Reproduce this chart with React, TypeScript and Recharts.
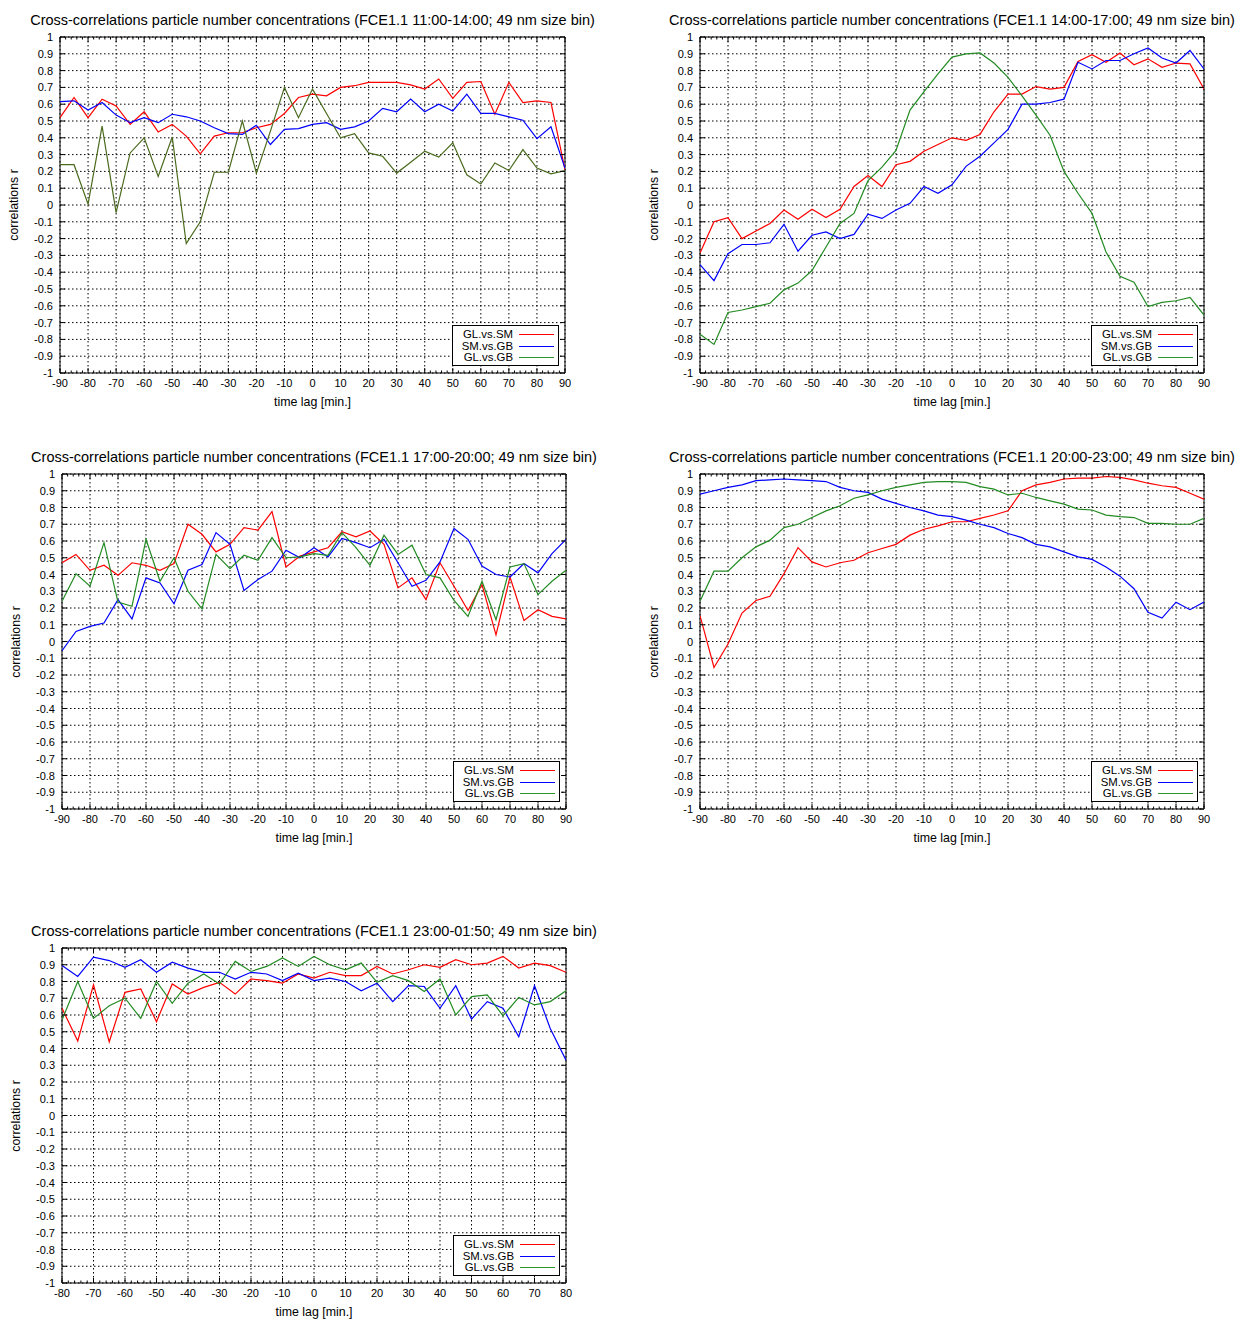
import React from 'react';
import { LineChart, Line, XAxis, YAxis, CartesianGrid, Legend, ReferenceArea } from 'recharts';

// ---------- categories / ticks ----------
const LAGS_90 = [-90, -85, -80, -75, -70, -65, -60, -55, -50, -45, -40, -35, -30, -25, -20, -15, -10, -5, 0, 5, 10, 15, 20, 25, 30, 35, 40, 45, 50, 55, 60, 65, 70, 75, 80, 85, 90];
const LAGS_80 = [-80, -75, -70, -65, -60, -55, -50, -45, -40, -35, -30, -25, -20, -15, -10, -5, 0, 5, 10, 15, 20, 25, 30, 35, 40, 45, 50, 55, 60, 65, 70, 75, 80];
const X_TICKS_90 = [-90, -80, -70, -60, -50, -40, -30, -20, -10, 0, 10, 20, 30, 40, 50, 60, 70, 80, 90];
const X_TICKS_80 = [-80, -70, -60, -50, -40, -30, -20, -10, 0, 10, 20, 30, 40, 50, 60, 70, 80];
const Y_TICKS = [1, 0.9, 0.8, 0.7, 0.6, 0.5, 0.4, 0.3, 0.2, 0.1, 0, -0.1, -0.2, -0.3, -0.4, -0.5, -0.6, -0.7, -0.8, -0.9, -1];
const SERIES_NAMES = ['GL.vs.SM', 'SM.vs.GB', 'GL.vs.GB'];

// ---------- panel 1: 11:00-14:00 ----------
const P1_GL_SM = [0.52, 0.64, 0.52, 0.63, 0.59, 0.48, 0.555, 0.435, 0.48, 0.41, 0.305, 0.41, 0.43, 0.43, 0.46, 0.48, 0.545, 0.64, 0.66, 0.65, 0.70, 0.71, 0.73, 0.73, 0.73, 0.715, 0.69, 0.75, 0.635, 0.73, 0.735, 0.54, 0.73, 0.61, 0.62, 0.61, 0.21];
const P1_SM_GB = [0.615, 0.62, 0.565, 0.61, 0.535, 0.49, 0.52, 0.49, 0.54, 0.525, 0.50, 0.46, 0.425, 0.42, 0.475, 0.36, 0.45, 0.455, 0.48, 0.49, 0.45, 0.465, 0.50, 0.575, 0.555, 0.63, 0.555, 0.60, 0.56, 0.66, 0.545, 0.545, 0.525, 0.505, 0.395, 0.465, 0.22];
const P1_GL_GB = [0.24, 0.24, 0.005, 0.47, -0.045, 0.31, 0.40, 0.17, 0.405, -0.23, -0.10, 0.195, 0.195, 0.50, 0.19, 0.44, 0.70, 0.52, 0.69, 0.545, 0.40, 0.425, 0.31, 0.29, 0.19, 0.255, 0.32, 0.285, 0.37, 0.18, 0.125, 0.25, 0.205, 0.33, 0.22, 0.185, 0.205];

// ---------- panel 2: 14:00-17:00 ----------
const P2_GL_SM = [-0.285, -0.10, -0.075, -0.20, -0.155, -0.11, -0.03, -0.085, -0.025, -0.075, -0.025, 0.11, 0.175, 0.11, 0.24, 0.26, 0.32, 0.36, 0.40, 0.385, 0.42, 0.555, 0.66, 0.66, 0.705, 0.69, 0.70, 0.855, 0.895, 0.85, 0.905, 0.835, 0.87, 0.82, 0.845, 0.84, 0.69];
const P2_SM_GB = [-0.355, -0.45, -0.29, -0.235, -0.235, -0.225, -0.115, -0.275, -0.18, -0.16, -0.20, -0.175, -0.055, -0.08, -0.03, 0.01, 0.11, 0.07, 0.12, 0.23, 0.29, 0.37, 0.45, 0.60, 0.60, 0.61, 0.63, 0.85, 0.81, 0.86, 0.86, 0.90, 0.935, 0.875, 0.845, 0.92, 0.81];
const P2_GL_GB = [-0.77, -0.83, -0.64, -0.625, -0.605, -0.585, -0.505, -0.465, -0.39, -0.25, -0.11, -0.05, 0.145, 0.225, 0.325, 0.565, 0.675, 0.78, 0.88, 0.90, 0.905, 0.845, 0.76, 0.65, 0.535, 0.415, 0.20, 0.07, -0.05, -0.28, -0.425, -0.46, -0.605, -0.58, -0.57, -0.55, -0.655];

// ---------- panel 3: 17:00-20:00 ----------
const P3_GL_SM = [0.47, 0.52, 0.425, 0.455, 0.395, 0.47, 0.455, 0.425, 0.465, 0.70, 0.64, 0.535, 0.58, 0.68, 0.665, 0.775, 0.445, 0.51, 0.535, 0.56, 0.655, 0.625, 0.66, 0.58, 0.32, 0.38, 0.25, 0.47, 0.33, 0.185, 0.34, 0.04, 0.385, 0.125, 0.19, 0.15, 0.135];
const P3_SM_GB = [-0.055, 0.06, 0.09, 0.11, 0.25, 0.135, 0.38, 0.35, 0.225, 0.425, 0.46, 0.65, 0.58, 0.305, 0.37, 0.42, 0.545, 0.50, 0.56, 0.505, 0.615, 0.59, 0.56, 0.61, 0.47, 0.33, 0.365, 0.475, 0.675, 0.61, 0.45, 0.40, 0.385, 0.465, 0.41, 0.525, 0.61];
const P3_GL_GB = [0.24, 0.405, 0.33, 0.59, 0.235, 0.21, 0.61, 0.36, 0.50, 0.30, 0.195, 0.52, 0.435, 0.515, 0.485, 0.62, 0.50, 0.505, 0.525, 0.515, 0.65, 0.56, 0.455, 0.635, 0.52, 0.575, 0.40, 0.38, 0.245, 0.15, 0.36, 0.13, 0.445, 0.465, 0.28, 0.36, 0.425];

// ---------- panel 4: 20:00-23:00 ----------
const P4_GL_SM = [0.155, -0.155, -0.015, 0.17, 0.245, 0.27, 0.405, 0.56, 0.475, 0.445, 0.47, 0.485, 0.53, 0.555, 0.58, 0.635, 0.67, 0.69, 0.715, 0.715, 0.735, 0.755, 0.78, 0.90, 0.935, 0.95, 0.97, 0.975, 0.975, 0.985, 0.98, 0.965, 0.945, 0.93, 0.92, 0.885, 0.85];
const P4_SM_GB = [0.88, 0.90, 0.92, 0.935, 0.96, 0.965, 0.97, 0.965, 0.96, 0.955, 0.92, 0.90, 0.89, 0.85, 0.825, 0.80, 0.78, 0.755, 0.745, 0.725, 0.70, 0.68, 0.645, 0.62, 0.58, 0.565, 0.535, 0.505, 0.49, 0.445, 0.39, 0.315, 0.175, 0.14, 0.235, 0.19, 0.235];
const P4_GL_GB = [0.24, 0.42, 0.42, 0.50, 0.565, 0.605, 0.68, 0.70, 0.74, 0.78, 0.81, 0.855, 0.875, 0.90, 0.92, 0.935, 0.95, 0.955, 0.955, 0.95, 0.925, 0.91, 0.875, 0.885, 0.86, 0.84, 0.82, 0.79, 0.785, 0.755, 0.745, 0.74, 0.705, 0.705, 0.70, 0.70, 0.735];

// ---------- panel 5: 23:00-01:50 ----------
const P5_GL_SM = [0.64, 0.445, 0.78, 0.44, 0.735, 0.755, 0.56, 0.785, 0.725, 0.765, 0.795, 0.725, 0.815, 0.805, 0.79, 0.845, 0.82, 0.855, 0.835, 0.835, 0.89, 0.845, 0.87, 0.90, 0.885, 0.93, 0.90, 0.91, 0.95, 0.88, 0.91, 0.895, 0.855];
const P5_SM_GB = [0.895, 0.83, 0.945, 0.925, 0.885, 0.93, 0.855, 0.915, 0.88, 0.855, 0.855, 0.815, 0.855, 0.845, 0.805, 0.85, 0.805, 0.82, 0.80, 0.745, 0.79, 0.68, 0.775, 0.77, 0.64, 0.775, 0.575, 0.68, 0.64, 0.47, 0.775, 0.52, 0.33];
const P5_GL_GB = [0.57, 0.80, 0.58, 0.655, 0.70, 0.58, 0.80, 0.67, 0.79, 0.845, 0.785, 0.92, 0.86, 0.89, 0.94, 0.89, 0.95, 0.90, 0.87, 0.91, 0.795, 0.835, 0.805, 0.74, 0.815, 0.60, 0.71, 0.72, 0.595, 0.705, 0.66, 0.68, 0.745];

const FONT = '"Liberation Sans", Arial, Helvetica, sans-serif';
const RED = '#ff0000';
const BLUE = '#0000ff';
const GREEN = '#228b22';
const KEY_ORDER = ['a', 'b', 'c'];
const LEGEND_COLORS: Record<string, string> = { a: RED, b: BLUE, c: '#2a962a' };

type PanelProps = {
  L: number; T: number; W: number; H: number;
  lags: number[]; majors: number[]; domain: [number, number];
  s1: number[]; s2: number[]; s3: number[];
  title: string; greenStroke: string;
};

function minorTicks(domain: [number, number]) {
  const out: number[] = [];
  for (let v = domain[0]; v <= domain[1]; v += 2) out.push(v);
  return out;
}

function Panel(p: PanelProps) {
  const rows = p.lags.map((lag, i) => ({ lag, a: p.s1[i], b: p.s2[i], c: p.s3[i] }));
  const ticks = minorTicks(p.domain);
  const majorSet = new Set(p.majors);
  const XTick = (props: any) => {
    const { x, y, payload } = props;
    const v = payload.value;
    const major = majorSet.has(v);
    const len = major ? 5 : 2.5;
    return (
      <g>
        <line x1={x} y1={y} x2={x} y2={y - len} stroke="#000" strokeWidth={1} />
        <line x1={x} y1={y - p.H} x2={x} y2={y - p.H + len} stroke="#000" strokeWidth={1} />
        {major && (
          <text x={x} y={y + 14} textAnchor="middle" fontSize={11} fontFamily={FONT} fill="#000">{String(v)}</text>
        )}
      </g>
    );
  };
  const YTick = (props: any) => {
    const { x, y, payload } = props;
    return (
      <g>
        <line x1={x} y1={y} x2={x + 5} y2={y} stroke="#000" strokeWidth={1} />
        <line x1={x + p.W} y1={y} x2={x + p.W - 5} y2={y} stroke="#000" strokeWidth={1} />
        <text x={x - 7} y={y + 4} textAnchor="end" fontSize={11} fontFamily={FONT} fill="#000">{String(payload.value)}</text>
      </g>
    );
  };
  const LegendBox = (props: any) => {
    const payload = [...(props.payload || [])].sort(
      (u: any, v: any) => KEY_ORDER.indexOf(u.dataKey) - KEY_ORDER.indexOf(v.dataKey)
    );
    return (
      <div style={{ width: 105, height: 39, border: '1px solid #000', background: '#fff', fontFamily: FONT, fontSize: 11.4, position: 'relative' }}>
        {payload.map((it: any, i: number) => (
          <div key={i} style={{ position: 'absolute', left: 0, top: Math.round(2 + i * 11.5), height: 12, width: 105 }}>
            <span style={{ position: 'absolute', right: 45, top: 0, lineHeight: '12px', whiteSpace: 'nowrap', color: '#000' }}>{it.value}</span>
            <span style={{ position: 'absolute', left: 66, top: 6, width: 35, height: 1, background: LEGEND_COLORS[it.dataKey] || it.color }} />
          </div>
        ))}
      </div>
    );
  };
  const chartW = p.W + 70;
  const chartH = p.H + 55;
  return (
    <>
      <div style={{ position: 'absolute', left: p.L + p.W / 2 - 400, top: p.T - 25, width: 800, textAlign: 'center', fontFamily: FONT, fontSize: 14.5, lineHeight: '16px', color: '#000', whiteSpace: 'nowrap' }}>{p.title}</div>
      <div style={{ position: 'absolute', left: p.L + p.W / 2 - 100, top: p.T + p.H + 21, width: 200, textAlign: 'center', fontFamily: FONT, fontSize: 12.4, lineHeight: '16px', color: '#000' }}>time lag [min.]</div>
      <div style={{ position: 'absolute', left: p.L - 46 - 100, top: p.T + p.H / 2 - 8, width: 200, textAlign: 'center', fontFamily: FONT, fontSize: 12.4, lineHeight: '16px', color: '#000', transform: 'rotate(-90deg)' }}>correlations r</div>
      <div style={{ position: 'absolute', left: p.L - 60, top: p.T - 10 }}>
        <LineChart width={chartW} height={chartH} data={rows} margin={{ top: 10, right: 10, left: 0, bottom: 0 }}>
          <CartesianGrid verticalValues={p.majors} horizontalValues={Y_TICKS} stroke="#000" strokeDasharray="1.5 2.5" strokeWidth={1} />
          <XAxis type="number" dataKey="lag" domain={p.domain} ticks={ticks} interval={0} tickLine={false} axisLine={false} tickSize={0} tickMargin={0} tick={XTick} height={45} allowDataOverflow />
          <YAxis type="number" domain={[-1, 1]} ticks={Y_TICKS} interval={0} tickLine={false} axisLine={false} tickSize={0} tickMargin={0} tick={YTick} width={60} allowDataOverflow />
          <Line type="linear" dataKey="a" name={SERIES_NAMES[0]} stroke={RED} strokeWidth={1.2} dot={false} isAnimationActive={false} />
          <Line type="linear" dataKey="b" name={SERIES_NAMES[1]} stroke={BLUE} strokeWidth={1.2} dot={false} isAnimationActive={false} />
          <Line type="linear" dataKey="c" name={SERIES_NAMES[2]} stroke={p.greenStroke} strokeWidth={1.2} dot={false} isAnimationActive={false} />
          <ReferenceArea x1={p.domain[0]} x2={p.domain[1]} y1={-1} y2={1} fill="none" stroke="#000" strokeWidth={1} ifOverflow="visible" />
          <Legend layout="vertical" align="center" verticalAlign="middle" itemSorter={null as any} content={LegendBox} wrapperStyle={{ left: p.W + 60 - 6 - 107, top: p.H + 10 - 7 - 41, width: 107, height: 41 }} />
        </LineChart>
      </div>
    </>
  );
}

const TITLE = 'Cross-correlations particle number concentrations';

export default function App() {
  return (
    <div style={{ position: 'absolute', left: 0, top: 0, width: 1236, height: 1319, background: '#fff' }}>
      <Panel L={60} T={37} W={505} H={336} lags={LAGS_90} majors={X_TICKS_90} domain={[-90, 90]} s1={P1_GL_SM} s2={P1_SM_GB} s3={P1_GL_GB} title={`${TITLE} (FCE1.1 11:00-14:00; 49 nm size bin)`} greenStroke="#4b6b1e" />
      <Panel L={700} T={37} W={504} H={336} lags={LAGS_90} majors={X_TICKS_90} domain={[-90, 90]} s1={P2_GL_SM} s2={P2_SM_GB} s3={P2_GL_GB} title={`${TITLE} (FCE1.1 14:00-17:00; 49 nm size bin)`} greenStroke={GREEN} />
      <Panel L={62} T={474} W={504} H={335} lags={LAGS_90} majors={X_TICKS_90} domain={[-90, 90]} s1={P3_GL_SM} s2={P3_SM_GB} s3={P3_GL_GB} title={`${TITLE} (FCE1.1 17:00-20:00; 49 nm size bin)`} greenStroke={GREEN} />
      <Panel L={700} T={474} W={504} H={335} lags={LAGS_90} majors={X_TICKS_90} domain={[-90, 90]} s1={P4_GL_SM} s2={P4_SM_GB} s3={P4_GL_GB} title={`${TITLE} (FCE1.1 20:00-23:00; 49 nm size bin)`} greenStroke={GREEN} />
      <Panel L={62} T={948} W={504} H={335} lags={LAGS_80} majors={X_TICKS_80} domain={[-80, 80]} s1={P5_GL_SM} s2={P5_SM_GB} s3={P5_GL_GB} title={`${TITLE} (FCE1.1 23:00-01:50; 49 nm size bin)`} greenStroke={GREEN} />
    </div>
  );
}
